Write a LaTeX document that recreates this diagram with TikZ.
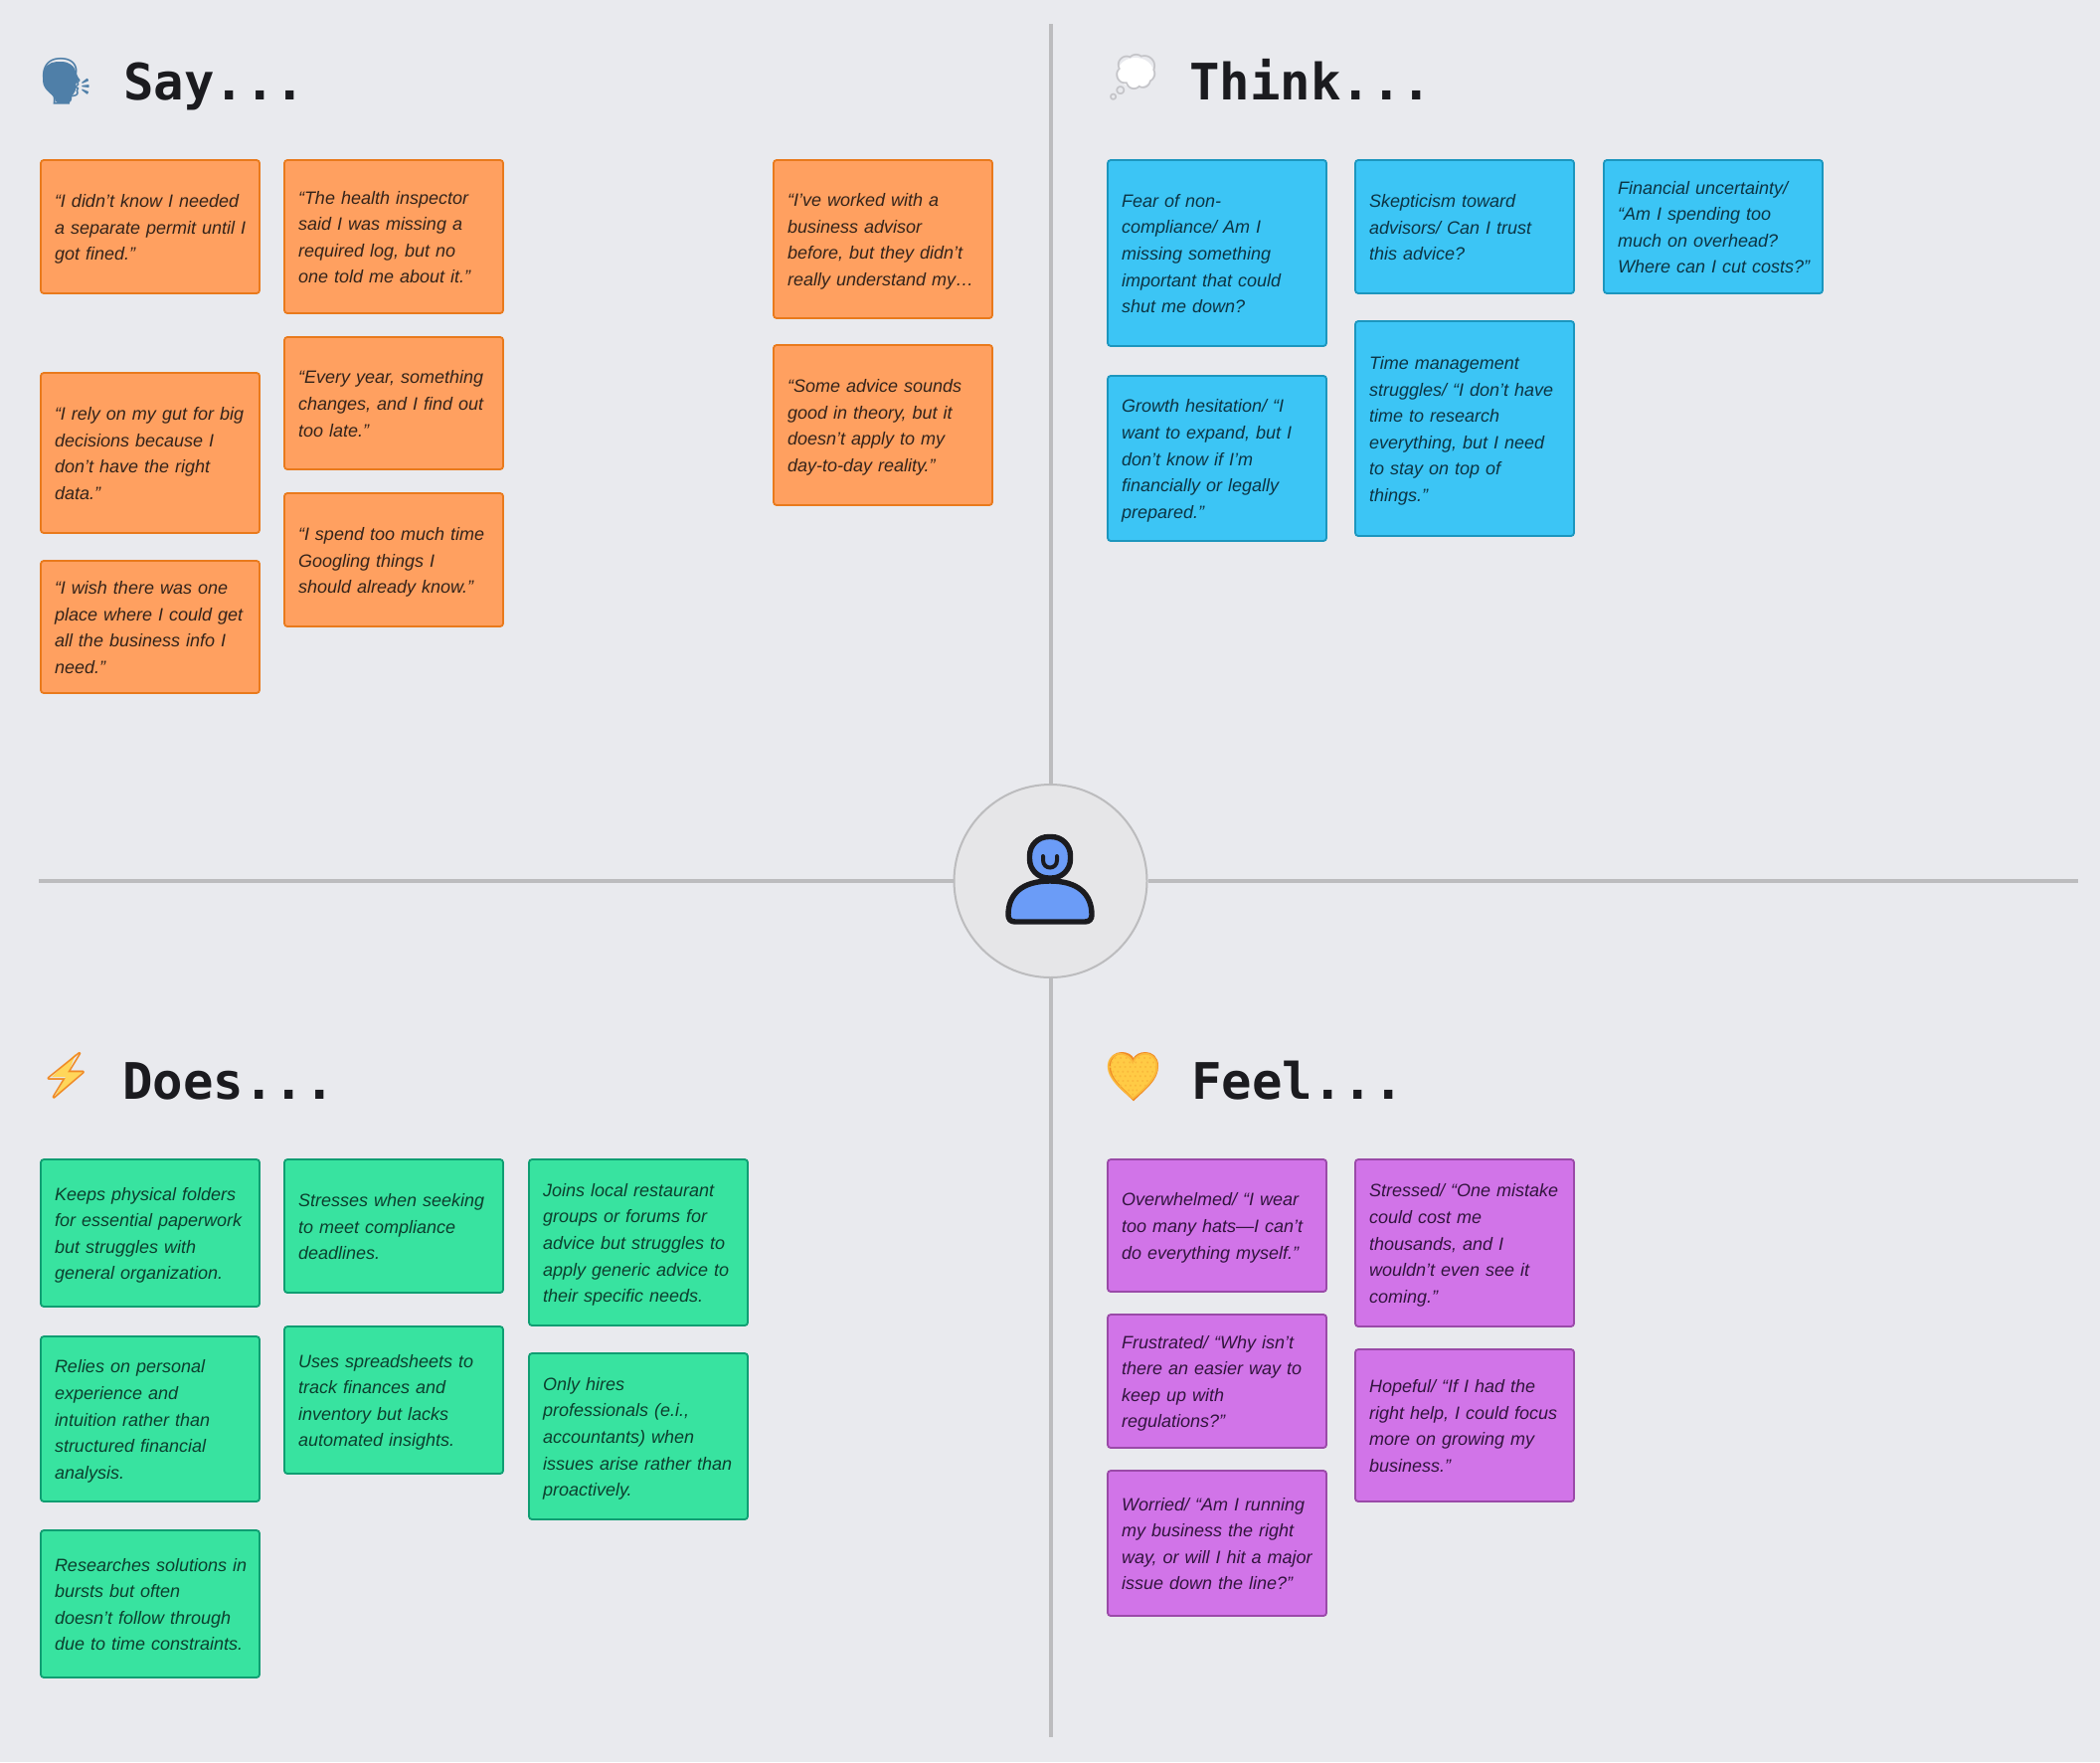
\documentclass[tikz,border=0pt]{standalone}
\usepackage{fontspec}
\usepackage{xcolor}
\usetikzlibrary{positioning, calc}
\setmainfont{Liberation Sans}
\newfontfamily\titlefont{DejaVu Sans Mono}
\newfontfamily\emojifont{Noto Emoji}
\definecolor{paper}{HTML}{E9EAEE}
\definecolor{hubfill}{HTML}{E6E6E8}
\definecolor{axisgray}{HTML}{BCBCBE}
\definecolor{ink}{HTML}{1B1B1F}
\definecolor{saycol}{HTML}{FFA060}\definecolor{sayline}{HTML}{E97A1C}\definecolor{saytext}{HTML}{33231A}
\definecolor{thinkcol}{HTML}{3CC5F5}\definecolor{thinkline}{HTML}{1C96BE}\definecolor{thinktext}{HTML}{0C3444}
\definecolor{doescol}{HTML}{38E3A0}\definecolor{doesline}{HTML}{0F9E72}\definecolor{doestext}{HTML}{0C3F2E}
\definecolor{feelcol}{HTML}{D174E8}\definecolor{feelline}{HTML}{9A4AA8}\definecolor{feeltext}{HTML}{32143E}
\definecolor{iconblue}{HTML}{6B9CF7}
\definecolor{headblue}{HTML}{4F7FA8}
\definecolor{cloudgray}{HTML}{C4C4C8}
\definecolor{boltorange}{HTML}{F08A24}
\definecolor{boltyellow}{HTML}{FFD65A}
\definecolor{heartgold}{HTML}{FFCB45}
\definecolor{heartedge}{HTML}{F08A24}

\begin{document}
\begin{tikzpicture}[
    x=0.5pt, y=-0.5pt,
    note/.style={rectangle, anchor=north west, rounded corners=1.5pt, line width=0.9pt, outer sep=0pt,
        inner xsep=7pt, inner ysep=0pt, text width=96pt, align=left,
        execute at begin node={\rightskip=-6pt plus 1fil\relax\rule{0pt}{9.5pt}},
        execute at end node={\rule[-2.5pt]{0pt}{2.5pt}},
        font=\fontsize{9}{13.3}\selectfont\itshape},
    say/.style={note, fill=saycol, draw=sayline, text=saytext},
    think/.style={note, fill=thinkcol, draw=thinkline, text=thinktext},
    does/.style={note, fill=doescol, draw=doesline, text=doestext},
    feel/.style={note, fill=feelcol, draw=feelline, text=feeltext},
    title/.style={anchor=base west, inner sep=0pt, text=ink, font=\fontsize{25.3}{30}\selectfont\titlefont\bfseries},
    emoji/.style={inner sep=0pt, font=\fontsize{23}{26}\selectfont\emojifont},
    axis/.style={draw=axisgray, line width=2pt},
    icon/.style={draw=ink, fill=iconblue, line width=2.7pt, line join=round}
]

% Background
\fill[paper] (0,0) rectangle (2112,1772);
\useasboundingbox (0,0) rectangle (2112,1772);

% Centre
\node[circle, draw=axisgray, fill=hubfill, line width=1pt, minimum size=97pt, inner sep=0pt] (hub) at (1056.5,886) {};
\coordinate (topend) at (1056.5,24);
\coordinate (bottomend) at (1056.5,1747);
\coordinate (leftend) at (39,886);
\coordinate (rightend) at (2090,886);
\draw[axis] (hub) -- (topend);
\draw[axis] (hub) -- (bottomend);
\draw[axis] (hub) -- (leftend);
\draw[axis] (hub) -- (rightend);

% Person
\draw[icon, rounded corners=9.5pt] (1035.5,841.5) rectangle (1076.5,883);
\draw[icon] (1021,927) -- (1091,927) .. controls (1096,927) and (1098,924) .. (1098,920)
    .. controls (1098,899) and (1084,886) .. (1056,886)
    .. controls (1028,886) and (1014,899) .. (1014,920)
    .. controls (1014,924) and (1016,927) .. (1021,927) -- cycle;
\draw[draw=ink, line width=2pt, line cap=round] (1049,861) -- (1049,865)
    .. controls (1049,875) and (1063,875) .. (1063,865) -- (1063,861);

% Say title
\fill[headblue, rounded corners=1.5pt] (55,103) .. controls (56,96) and (43,92) .. (43,78)
    .. controls (43,68) and (50,62) .. (60,62) .. controls (68,62) and (74,66) .. (76,72)
    -- (80,81) -- (76,83) -- (76,93) -- (72,95) -- (72,103) -- cycle;
\node[emoji, text=headblue] (sayicon) at (67,82) {🗣};
\node[title] (saytitle) at (124,100) {Say...};

% Think title
\fill[white] (1142,73) ellipse [x radius=18, y radius=15];
\node[emoji, text=cloudgray] (thinkicon) at (1140,78) {💭};
\node[title] (thinktitle) at (1196,100) {Think...};

% Does title
\fill[boltyellow] (76,1060) -- (52,1083) -- (66,1083) -- (54,1105) -- (83,1078) -- (69,1078) -- cycle;
\node[emoji, text=boltorange] (doesicon) at (67,1082) {⚡};
\node[title] (doestitle) at (123,1105) {Does...};

% Feel title
\filldraw[fill=heartgold, draw=heartedge, line width=1pt] (1140,1106)
    .. controls (1128,1094) and (1116,1086) .. (1116,1072)
    .. controls (1116,1063) and (1122,1059) .. (1128,1059)
    .. controls (1133,1059) and (1138,1061) .. (1140,1066)
    .. controls (1142,1061) and (1147,1059) .. (1152,1059)
    .. controls (1158,1059) and (1164,1063) .. (1164,1072)
    .. controls (1164,1086) and (1152,1094) .. (1140,1106) -- cycle;
\node[emoji, text=heartgold!70!heartedge] (feelicon) at (1140,1083) {💛};
\node[title] (feeltitle) at (1198,1105) {Feel...};

% Say
\node[say, minimum height=67pt] (s1) at (41,161) {“I didn’t know I needed\\a separate permit until I\\got fined.”};
\node[say, minimum height=77pt] (s2) at (286,161) {“The health inspector\\said I was missing a\\required log, but no\\one told me about it.”};
\node[say, minimum height=80.5pt] (s3) at (41,375) {“I rely on my gut for big\\decisions because I\\don’t have the right\\data.”};
\node[say, minimum height=66.5pt] (s4) at (286,339) {“Every year, something\\changes, and I find out\\too late.”};
\node[say, minimum height=66.5pt] (s5) at (41,564) {“I wish there was one\\place where I could get\\all the business info I\\need.”};
\node[say, minimum height=67pt] (s6) at (286,496) {“I spend too much time\\Googling things I\\should already know.”};
\node[say, minimum height=79.5pt] (s7) at (778,161) {“I’ve worked with a\\business advisor\\before, but they didn’t\\really understand my…};
\node[say, minimum height=80.5pt] (s8) at (778,347) {“Some advice sounds\\good in theory, but it\\doesn’t apply to my\\day-to-day reality.”};

% Think
\node[think, minimum height=93.5pt] (t1) at (1114,161) {Fear of non-\\compliance/ Am I\\missing something\\important that could\\shut me down?};
\node[think, minimum height=83pt] (t2) at (1114,378) {Growth hesitation/ “I\\want to expand, but I\\don’t know if I’m\\financially or legally\\prepared.”};
\node[think, minimum height=67pt] (t3) at (1363,161) {Skepticism toward\\advisors/ Can I trust\\this advice?};
\node[think, minimum height=108pt] (t4) at (1363,323) {Time management\\struggles/ “I don’t have\\time to research\\everything, but I need\\to stay on top of\\things.”};
\node[think, minimum height=67pt] (t5) at (1613,161) {Financial uncertainty/\\“Am I spending too\\much on overhead?\\Where can I cut costs?”};

% Does
\node[does, minimum height=74pt] (d1) at (41,1166) {Keeps physical folders\\for essential paperwork\\but struggles with\\general organization.};
\node[does, minimum height=83pt] (d2) at (41,1344) {Relies on personal\\experience and\\intuition rather than\\structured financial\\analysis.};
\node[does, minimum height=74pt] (d3) at (41,1539) {Researches solutions in\\bursts but often\\doesn’t follow through\\due to time constraints.};
\node[does, minimum height=67pt] (d4) at (286,1166) {Stresses when seeking\\to meet compliance\\deadlines.};
\node[does, minimum height=74pt] (d5) at (286,1334) {Uses spreadsheets to\\track finances and\\inventory but lacks\\automated insights.};
\node[does, minimum height=83.5pt] (d6) at (532,1166) {Joins local restaurant\\groups or forums for\\advice but struggles to\\apply generic advice to\\their specific needs.};
\node[does, minimum height=83.5pt] (d7) at (532,1361) {Only hires\\professionals (e.i.,\\accountants) when\\issues arise rather than\\proactively.};

% Feel
\node[feel, minimum height=66.5pt] (f1) at (1114,1166) {Overwhelmed/ “I wear\\too many hats—I can’t\\do everything myself.”};
\node[feel, minimum height=67pt] (f2) at (1114,1322) {Frustrated/ “Why isn’t\\there an easier way to\\keep up with\\regulations?”};
\node[feel, minimum height=73pt] (f3) at (1114,1479) {Worried/ “Am I running\\my business the right\\way, or will I hit a major\\issue down the line?”};
\node[feel, minimum height=84pt] (f4) at (1363,1166) {Stressed/ “One mistake\\could cost me\\thousands, and I\\wouldn’t even see it\\coming.”};
\node[feel, minimum height=76.5pt] (f5) at (1363,1357) {Hopeful/ “If I had the\\right help, I could focus\\more on growing my\\business.”};

\end{tikzpicture}
\end{document}
